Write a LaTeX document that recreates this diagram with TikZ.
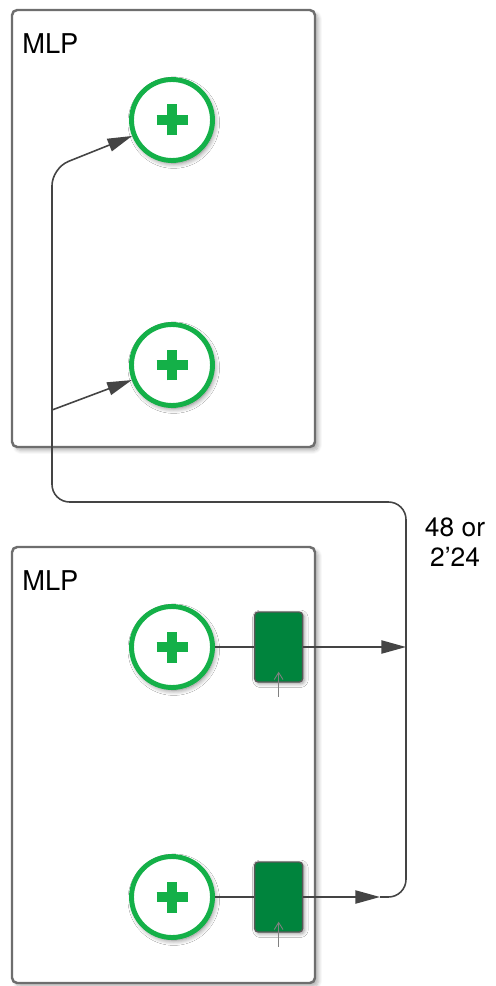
\documentclass[tikz,border=0pt]{standalone}
\usepackage{fontspec}
\setmainfont{TeX Gyre Heros}
\usetikzlibrary{arrows.meta, positioning, shadows.blur}

\definecolor{addgreen}{RGB}{20,176,72}
\definecolor{regfill}{RGB}{0,132,61}
\definecolor{wiregray}{RGB}{68,68,68}
\definecolor{framegray}{RGB}{110,110,110}

\begin{document}
\begin{tikzpicture}
   [
      x=0.02cm, y=-0.02cm,
      block/.style={draw=framegray, line width=1.4pt, fill=white, rounded corners=3pt,
                    blur shadow={shadow xshift=2pt, shadow yshift=-2pt, shadow blur steps=6, shadow opacity=30}},
      adder/.style={circle, draw=addgreen, line width=2.8pt, fill=white, minimum size=1.62cm,
                    inner sep=0pt, blur shadow={shadow xshift=1pt, shadow yshift=-1.5pt, shadow blur radius=3pt,
                    shadow blur steps=6, shadow opacity=55}},
      reg/.style={rectangle, draw=framegray!80!black, line width=0.8pt, fill=regfill, rounded corners=2pt,
                  minimum width=0.96cm, minimum height=1.4cm, inner sep=0pt,
                  blur shadow={shadow xshift=1pt, shadow yshift=-1pt, shadow blur steps=5, shadow opacity=40}},
      wire/.style={wiregray, line width=0.9pt},
      tip/.style={-{Triangle[length=14pt, width=7.5pt]}},
      clk/.style={gray, line width=0.5pt, -{Straight Barb[length=4pt, width=5pt]}},
      title/.style={anchor=north west, font=\fontsize{15.5}{18}\selectfont, inner sep=0pt}
   ]

   \useasboundingbox (0,0) rectangle (496,986);

   % =======================================================
   % Upper MLP: two adders fed from the shared bus
   % =======================================================

   \path[block] (12,10) rectangle (315,447);
   \node[title] (mlpA) at (22,33) {MLP};

   \node[adder] (addA) at (172,120) {};
   \node[adder] (addB) at (172,365) {};

   % =======================================================
   % Lower MLP: adders followed by registers
   % =======================================================

   \path[block] (12,547) rectangle (315,983);
   \node[title] (mlpB) at (22,570) {MLP};

   \node[adder] (addC) at (172,647) {};
   \node[reg, right=0.78cm of addC] (regC) {};

   \node[adder] (addD) at (172,897) {};
   \node[reg, right=0.78cm of addD] (regD) {};

   % plus signs
   \foreach \a in {addA, addB, addC, addD}
      \draw[addgreen, line width=5.6pt] ([xshift=-0.31cm]\a.center) -- ([xshift=0.31cm]\a.center)
                                        ([yshift=-0.31cm]\a.center) -- ([yshift=0.31cm]\a.center);

   % clock marks on the registers
   \foreach \r in {regC, regD}
      \draw[clk] ([yshift=-0.28cm]\r.south) -- ([yshift=0.22cm]\r.south);

   % =======================================================
   % Bus back to the upper MLP
   % =======================================================

   \coordinate (merge) at (406,647);
   \coordinate (midD) at (380,897);
   \coordinate (branch) at (52,410);

   \draw[wire] (addC) -- (regC);
   \draw[wire] (addD) -- (regD);
   \draw[wire, tip] (regC.east) -- (merge);
   \draw[wire, tip] (regD.east) -- (midD);

   \draw[wire, tip, rounded corners=10pt] (midD) -- (406,897) -- (406,502) -- (52,502) -- (52,168) -- (addA);
   \draw[wire, tip] (branch) -- (addB);

   % width of the bus
   \node[align=center, font=\fontsize{15}{17}\selectfont] (width) at (455,542) {48 or\\2’24};

\end{tikzpicture}
\end{document}
